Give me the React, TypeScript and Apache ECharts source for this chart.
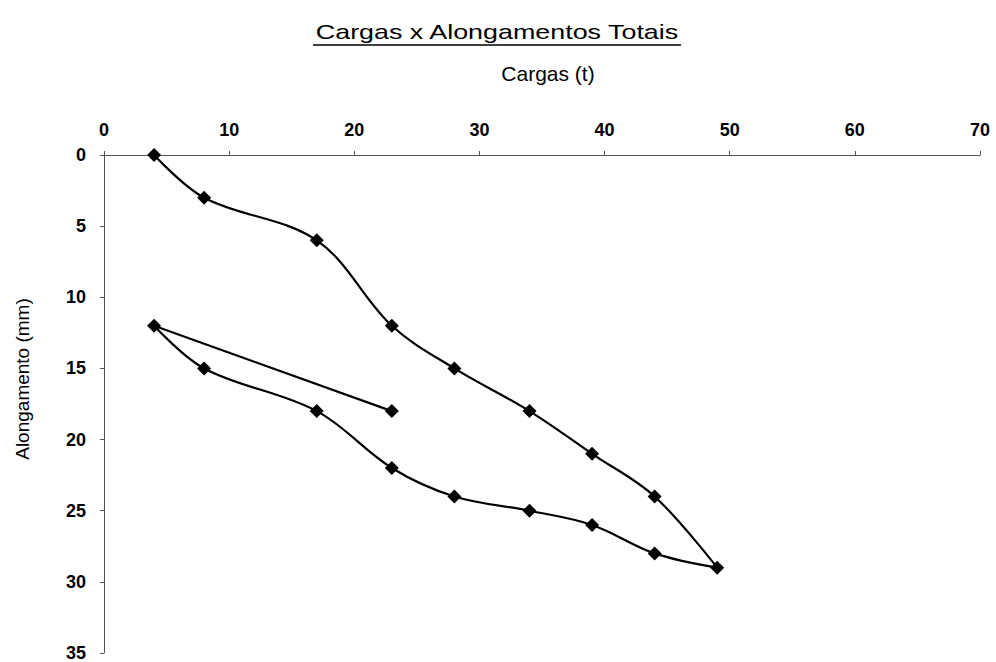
import React, { useEffect, useRef } from "react";
import * as echarts from "echarts";

const cargas = [4, 8, 17, 23, 28, 34, 39, 44, 49, 44, 39, 34, 28, 23, 17, 8, 4, 23];
const alongamentos = [0, 3, 6, 12, 15, 18, 21, 24, 29, 28, 26, 25, 24, 22, 18, 15, 12, 18];
const title = "Cargas x Alongamentos Totais";
const xName = "Cargas (t)";
const yName = "Alongamento (mm)";

const FONT = "'Liberation Sans', Arial, sans-serif";

export default function App() {
  const ref = useRef<HTMLDivElement>(null);
  useEffect(() => {
    document.body.style.margin = "0";
    if (!ref.current) return;
    const chart = echarts.init(ref.current, null, { renderer: "svg" });
    const data = cargas.map((c, i) => [c, alongamentos[i]]);
    chart.setOption({
      animation: false,
      backgroundColor: "#ffffff",
      graphic: [
        {
          type: "text",
          x: 497,
          y: 32,
          scaleX: 1.28,
          style: {
            text: title,
            font: `21px ${FONT}`,
            fill: "#000",
            textAlign: "center",
            textVerticalAlign: "middle",
          },
        },
        {
          type: "line",
          shape: { x1: 313, y1: 45, x2: 681, y2: 45 },
          style: { stroke: "#000", lineWidth: 1.5 },
        },
        {
          type: "text",
          x: 22,
          y: 379,
          rotation: Math.PI / 2,
          style: {
            text: yName,
            font: `19px ${FONT}`,
            fill: "#000",
            textAlign: "center",
            textVerticalAlign: "middle",
          },
        },
      ],
      grid: { left: 104, right: 16, top: 155, bottom: 5, containLabel: false },
      xAxis: {
        type: "value",
        position: "top",
        min: 0,
        max: 70,
        interval: 10,
        name: xName,
        nameLocation: "middle",
        nameGap: 71,
        nameTextStyle: { fontFamily: FONT, fontSize: 21, color: "#000", padding: [0, 0, 0, 12] },
        axisLine: { show: true, lineStyle: { color: "#555", width: 1 } },
        axisTick: { show: true, inside: false, length: 4, lineStyle: { color: "#555" } },
        axisLabel: { fontFamily: FONT, fontSize: 18, fontWeight: "bold", color: "#000", margin: 16 },
        splitLine: { show: false },
      },
      yAxis: {
        type: "value",
        inverse: true,
        min: 0,
        max: 35,
        interval: 5,
        axisLine: { show: true, onZero: false, lineStyle: { color: "#555", width: 1 } },
        axisTick: { show: true, inside: false, length: 4, lineStyle: { color: "#555" } },
        axisLabel: { fontFamily: FONT, fontSize: 18, fontWeight: "bold", color: "#000", margin: 18 },
        splitLine: { show: false },
      },
      series: [
        {
          type: "line",
          data,
          smooth: 0.35,
          symbol: "diamond",
          symbolSize: 14,
          itemStyle: { color: "#000" },
          lineStyle: { color: "#000", width: 2.2 },
        },
      ],
    });
    return () => chart.dispose();
  }, []);
  return <div ref={ref} style={{ width: 996, height: 662 }} />;
}
